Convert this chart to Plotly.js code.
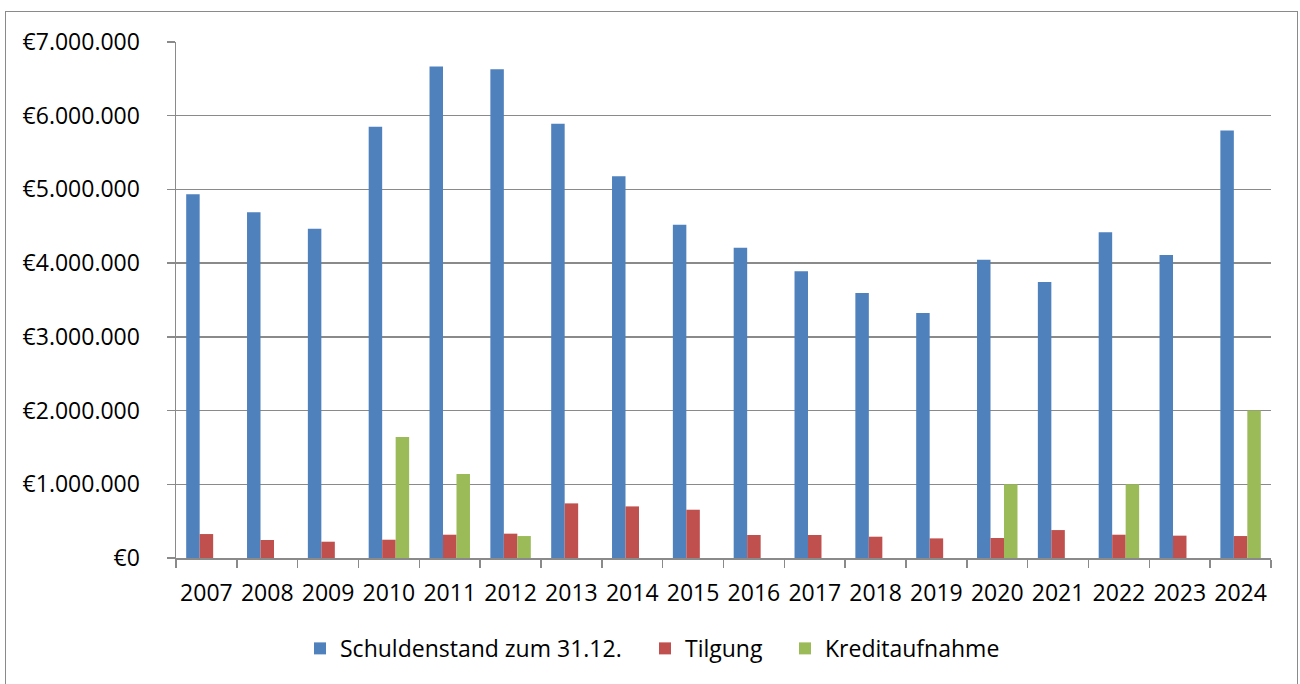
<!DOCTYPE html>
<html>
<head>
<meta charset="utf-8">
<script src="https://cdn.plot.ly/plotly-3.0.1.min.js"></script>
<style>
  html, body { margin: 0; padding: 0; background: #fff; }
  #wrap { position: relative; width: 1300px; height: 684px; overflow: hidden; }
  #frame { position: absolute; left: 5px; top: 11px; width: 1293px; height: 720px; border: 1.5px solid #8a8a8a; box-sizing: border-box; pointer-events: none; }
  #chart { position: absolute; left: 0; top: 0; width: 1300px; height: 684px; }
</style>
</head>
<body>
<div id="wrap">
  <div id="chart"></div>
  <div id="frame"></div>
</div>
<script>
const years = ['2007','2008','2009','2010','2011','2012','2013','2014','2015','2016','2017','2018','2019','2020','2021','2022','2023','2024'];
const schuldenstand = [4935000, 4690000, 4466000, 5850000, 6667000, 6630000, 5890000, 5180000, 4520000, 4210000, 3890000, 3595000, 3325000, 4046000, 3744000, 4420000, 4110000, 5800000];
const tilgung = [325000, 244000, 221000, 248000, 316000, 330000, 741000, 700000, 655000, 312000, 312000, 289000, 266000, 271000, 379000, 316000, 303000, 298000];
const kreditaufnahme = [0, 0, 0, 1640000, 1138000, 298000, 0, 0, 0, 0, 0, 0, 0, 1000000, 0, 1000000, 0, 2000000];
const seriesNames = ['Schuldenstand zum 31.12.', 'Tilgung', 'Kreditaufnahme'];

const font = {family: '"Open Sans", "Noto Sans", sans-serif', size: 23, color: '#000'};
const gridCol = '#8a8a8a';

const traces = [
  {type: 'bar', name: seriesNames[0], x: years, y: schuldenstand, marker: {color: '#4F81BD', line: {width: 0}}, legend: 'legend'},
  {type: 'bar', name: seriesNames[1], x: years, y: tilgung, marker: {color: '#C0504D', line: {width: 0}}, legend: 'legend2'},
  {type: 'bar', name: seriesNames[2], x: years, y: kreditaufnahme.map(v => v === 0 ? null : v), marker: {color: '#9BBB59', line: {width: 0}}, legend: 'legend3'}
];

function leg(xpx) {
  return {
    orientation: 'h',
    xref: 'container', yref: 'container',
    x: xpx / 1300, xanchor: 'left',
    y: 0.052, yanchor: 'middle',
    font: font,
    bgcolor: 'rgba(0,0,0,0)',
    borderwidth: 0
  };
}

const layout = {
  width: 1300, height: 684,
  margin: {l: 176, r: 29, t: 41.5, b: 125.5, pad: 0},
  paper_bgcolor: 'rgba(0,0,0,0)',
  plot_bgcolor: '#fff',
  font: font,
  separators: ',.',
  barmode: 'group',
  bargap: 0.335,
  bargroupgap: 0,
  showlegend: true,
  hovermode: false,
  xaxis: {
    type: 'category',
    showline: true, linecolor: gridCol, linewidth: 1.5,
    ticks: 'outside', ticklen: 8, tickcolor: gridCol, tickwidth: 1.5,
    tickson: 'boundaries',
    tickangle: 0,
    showgrid: false, zeroline: false,
    ticklabelstandoff: 14,
    tickfont: font
  },
  yaxis: {
    range: [0, 7000000],
    dtick: 1000000, tick0: 0,
    tickprefix: '€', tickformat: ',d',
    showline: true, linecolor: gridCol, linewidth: 1.5,
    ticks: 'outside', ticklen: 8, tickcolor: gridCol, tickwidth: 1.5,
    showgrid: true, gridcolor: gridCol, gridwidth: 1.5,
    zeroline: false,
    ticklabelstandoff: 22,
    tickfont: font
  },
  legend: leg(300),
  legend2: leg(645),
  legend3: leg(785)
};

Plotly.newPlot('chart', traces, layout, {displayModeBar: false, staticPlot: true});
</script>
</body>
</html>
